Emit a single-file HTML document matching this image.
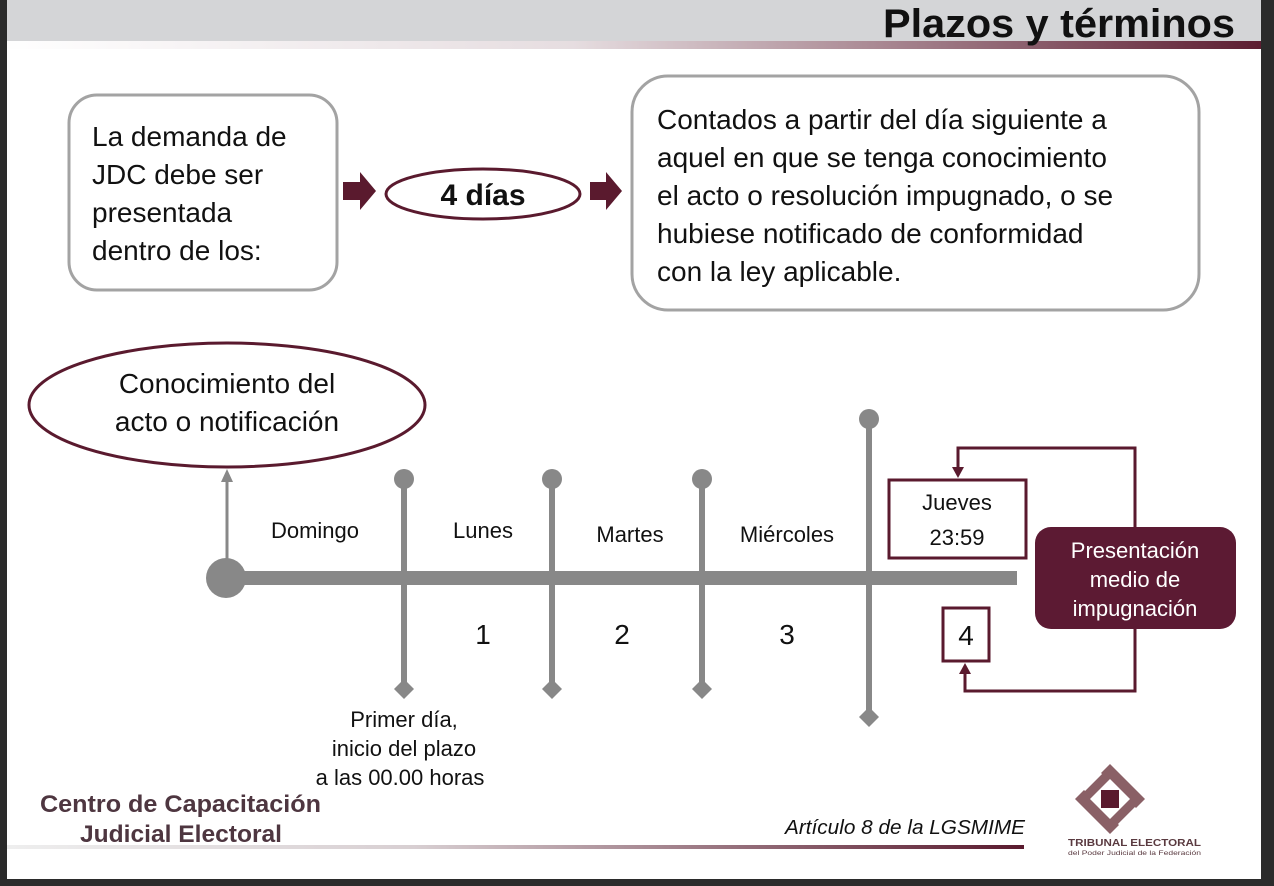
<!DOCTYPE html>
<html><head><meta charset="utf-8"><style>
html,body{margin:0;padding:0;background:#fff}
svg{display:block}
text{font-family:"Liberation Sans",Arial,sans-serif}
</style></head><body>
<svg width="1274" height="886" viewBox="0 0 1274 886" xmlns="http://www.w3.org/2000/svg">
<defs>
<linearGradient id="g1" x1="0" x2="1"><stop offset="0" stop-color="#fff"/><stop offset="0.45" stop-color="#e6dde0"/><stop offset="1" stop-color="#5a1a2e"/></linearGradient>
<linearGradient id="g2" x1="0" x2="1"><stop offset="0" stop-color="#eee"/><stop offset="0.4" stop-color="#d8cfd2"/><stop offset="1" stop-color="#5a1a2e"/></linearGradient>
</defs>
<rect x="0" y="0" width="1274" height="886" fill="#fff"/>
<rect x="0" y="0" width="1274" height="41" fill="#d4d5d7"/>
<rect x="0" y="41" width="1274" height="8" fill="url(#g1)"/>
<text x="883" y="37" textLength="352" lengthAdjust="spacingAndGlyphs" font-size="40" font-weight="bold" fill="#111">Plazos y términos</text>
<rect x="0" y="0" width="7" height="886" fill="#2b2b2b"/>
<rect x="1261" y="0" width="13" height="886" fill="#2b2b2b"/>
<rect x="0" y="879" width="1274" height="7" fill="#2b2b2b"/>

<rect x="69" y="95" width="268" height="195" rx="28" fill="#fff" stroke="#a3a3a3" stroke-width="3"/>
<g font-size="28" fill="#111"><text x="92" y="146">La demanda de</text><text x="92" y="184">JDC debe ser</text><text x="92" y="222">presentada</text><text x="92" y="260">dentro de los:</text></g>
<polygon points="343,182 360,182 360,172 376,191 360,210 360,200 343,200" fill="#5a1a2e"/>
<ellipse cx="483" cy="194" rx="97" ry="25" fill="#fff" stroke="#5a1a2e" stroke-width="3"/>
<text x="483" y="205" text-anchor="middle" font-size="30" font-weight="bold" fill="#111">4 días</text>
<polygon points="590,182 606,182 606,172 622,191 606,210 606,200 590,200" fill="#5a1a2e"/>
<rect x="632" y="76" width="567" height="234" rx="36" fill="#fff" stroke="#a3a3a3" stroke-width="3"/>
<g font-size="28" fill="#111"><text x="657" y="129">Contados a partir del día siguiente a</text><text x="657" y="167">aquel en que se tenga conocimiento</text><text x="657" y="205">el acto o resolución impugnado, o se</text><text x="657" y="243">hubiese notificado de conformidad</text><text x="657" y="281">con la ley aplicable.</text></g>

<ellipse cx="227" cy="405" rx="198" ry="62" fill="#fff" stroke="#5a1a2e" stroke-width="3"/>
<g font-size="28" fill="#111" text-anchor="middle"><text x="227" y="393">Conocimiento del</text><text x="227" y="431">acto o notificación</text></g>
<line x1="227" y1="572" x2="227" y2="480" stroke="#888" stroke-width="3"/>
<polygon points="227,469 221,482 233,482" fill="#888"/>

<g fill="#888" stroke="#888">
<line x1="404" y1="479" x2="404" y2="689" stroke-width="6"/><circle cx="404" cy="479" r="10" stroke="none"/><polygon points="404,679 414,689 404,699 394,689" stroke="none"/>
<line x1="552" y1="479" x2="552" y2="689" stroke-width="6"/><circle cx="552" cy="479" r="10" stroke="none"/><polygon points="552,679 562,689 552,699 542,689" stroke="none"/>
<line x1="702" y1="479" x2="702" y2="689" stroke-width="6"/><circle cx="702" cy="479" r="10" stroke="none"/><polygon points="702,679 712,689 702,699 692,689" stroke="none"/>
<line x1="869" y1="419" x2="869" y2="717" stroke-width="6"/><circle cx="869" cy="419" r="10" stroke="none"/><polygon points="869,707 879,717 869,727 859,717" stroke="none"/>
<rect x="226" y="571" width="791" height="14" stroke="none"/>
<circle cx="226" cy="578" r="20" stroke="none"/>
</g>
<g font-size="22" fill="#111" text-anchor="middle">
<text x="315" y="538">Domingo</text><text x="483" y="538">Lunes</text><text x="630" y="542">Martes</text><text x="787" y="542">Miércoles</text>
<text x="404" y="727">Primer día,</text><text x="404" y="756">inicio del plazo</text><text x="400" y="785">a las 00.00 horas</text>
</g>
<g font-size="28" fill="#111" text-anchor="middle"><text x="483" y="644">1</text><text x="622" y="644">2</text><text x="787" y="644">3</text></g>

<rect x="889" y="480" width="137" height="78" fill="#fff" stroke="#5a1a2e" stroke-width="3"/>
<g font-size="22" fill="#111" text-anchor="middle"><text x="957" y="510">Jueves</text><text x="957" y="545">23:59</text></g>
<rect x="943" y="608" width="46" height="53" fill="#fff" stroke="#5a1a2e" stroke-width="3"/>
<text x="966" y="645" text-anchor="middle" font-size="28" fill="#111">4</text>
<polyline points="1135,527 1135,448 958,448 958,470" fill="none" stroke="#5a1a2e" stroke-width="3"/>
<polygon points="958,478 952,467 964,467" fill="#5a1a2e"/>
<polyline points="1135,629 1135,691 965,691 965,672" fill="none" stroke="#5a1a2e" stroke-width="3"/>
<polygon points="965,663 959,674 971,674" fill="#5a1a2e"/>
<rect x="1035" y="527" width="201" height="102" rx="16" fill="#5c1a33"/>
<g font-size="22" fill="#fff" text-anchor="middle"><text x="1135" y="558">Presentación</text><text x="1135" y="587">medio de</text><text x="1135" y="616">impugnación</text></g>

<g font-size="24" font-weight="bold" fill="#4e3640"><text x="40" y="812" textLength="281" lengthAdjust="spacingAndGlyphs">Centro de Capacitación</text><text x="80" y="842" textLength="202" lengthAdjust="spacingAndGlyphs">Judicial Electoral</text></g>
<text x="785" y="834" textLength="240" lengthAdjust="spacingAndGlyphs" font-size="20" font-style="italic" fill="#111">Artículo 8 de la LGSMIME</text>
<rect x="7" y="845" width="1017" height="4" fill="url(#g2)"/>

<g transform="translate(1110,799)">
<polygon points="0,-35 35,0 0,35 -35,0" fill="#8a6066"/>
<polygon points="0,-20 20,0 0,20 -20,0" fill="#fff"/>
<line x1="-26" y1="-9" x2="-9" y2="-26" stroke="#fff" stroke-width="3"/>
<line x1="9" y1="26" x2="26" y2="9" stroke="#fff" stroke-width="3"/>
<rect x="-9" y="-9" width="18" height="18" fill="#5a1a2e"/>
</g>
<text x="1068" y="846" textLength="133" lengthAdjust="spacingAndGlyphs" font-size="10" font-weight="bold" fill="#5a3a40">TRIBUNAL ELECTORAL</text>
<text x="1068" y="855" textLength="133" lengthAdjust="spacingAndGlyphs" font-size="6" fill="#5a3a40">del Poder Judicial de la Federación</text>
</svg>
</body></html>
